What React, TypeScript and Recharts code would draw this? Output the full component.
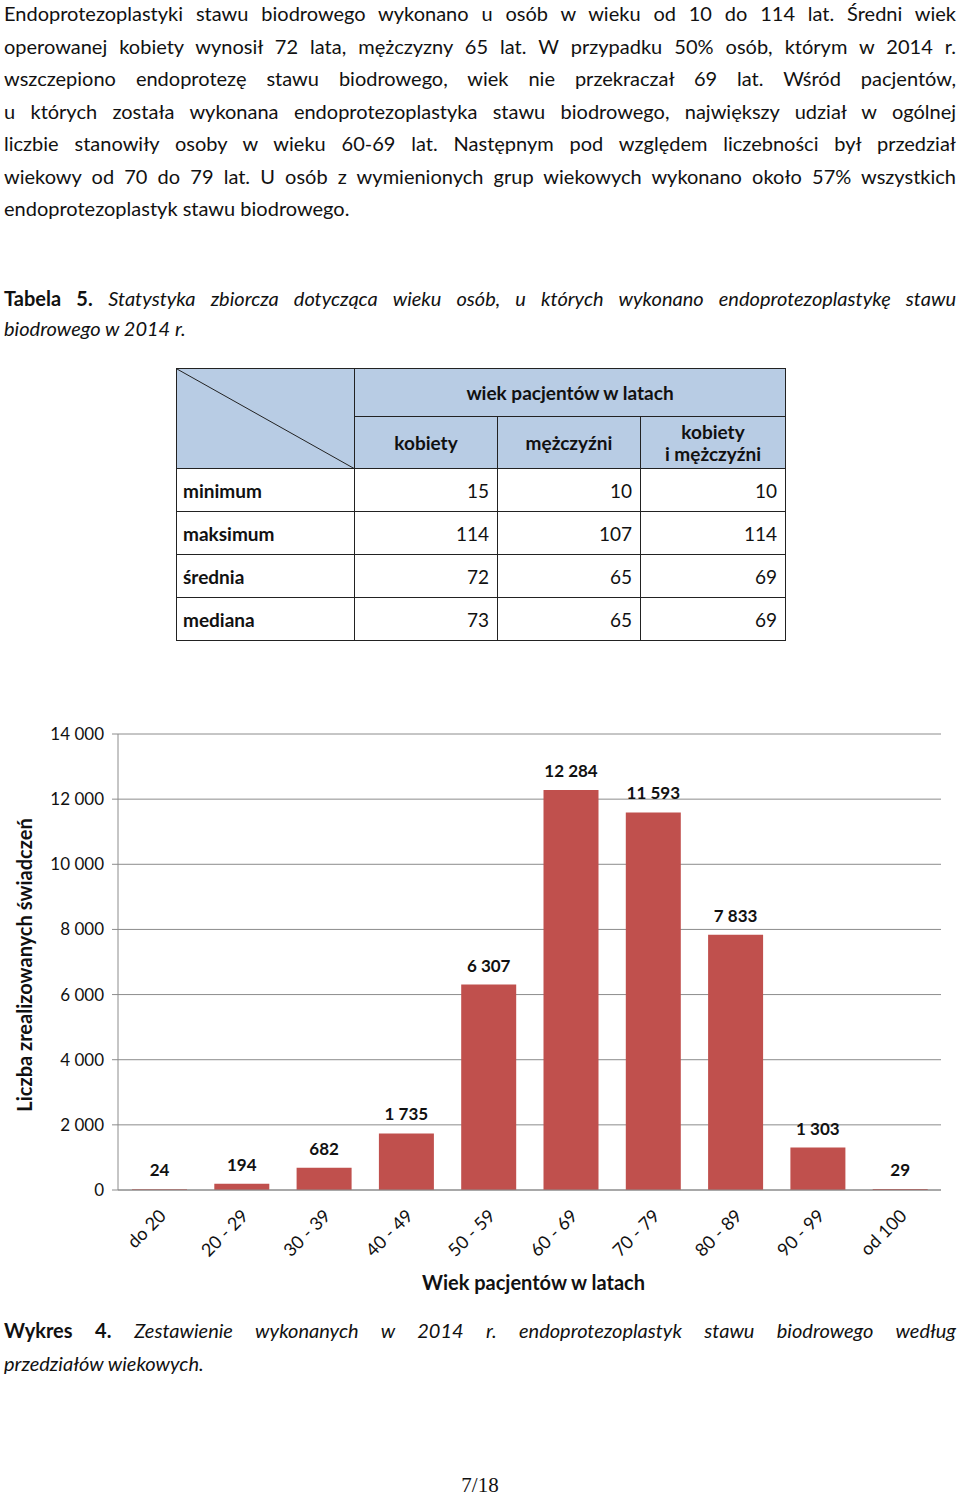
import React from 'react'
import { BarChart, Bar, XAxis, YAxis, CartesianGrid, LabelList, Label } from 'recharts'

const FONT = 'Lato, "Open Sans", sans-serif'

// chart data
const AGE_GROUPS = ['do 20', '20 - 29', '30 - 39', '40 - 49', '50 - 59', '60 - 69', '70 - 79', '80 - 89', '90 - 99', 'od 100']
const COUNTS = [24, 194, 682, 1735, 6307, 12284, 11593, 7833, 1303, 29]
const Y_TICKS = [0, 2000, 4000, 6000, 8000, 10000, 12000, 14000]

// table 5
const STAT_ROWS = ['minimum', 'maksimum', 'średnia', 'mediana']
const WOMEN = [15, 114, 72, 73]
const MEN = [10, 107, 65, 65]
const ALL = [10, 114, 69, 69]

const PARAGRAPH = [
  'Endoprotezoplastyki stawu biodrowego wykonano u osób w wieku od 10 do 114 lat. Średni wiek',
  'operowanej kobiety wynosił 72 lata, mężczyzny 65 lat. W przypadku 50% osób, którym w 2014 r.',
  'wszczepiono endoprotezę stawu biodrowego, wiek nie przekraczał 69 lat. Wśród pacjentów,',
  'u których została wykonana endoprotezoplastyka stawu biodrowego, największy udział w ogólnej',
  'liczbie stanowiły osoby w wieku 60-69 lat. Następnym pod względem liczebności był przedział',
  'wiekowy od 70 do 79 lat. U osób z wymienionych grup wiekowych wykonano około 57% wszystkich',
  'endoprotezoplastyk stawu biodrowego.',
]

const fmt = (v: number) => String(v).replace(/\B(?=(\d{3})+(?!\d))/g, ' ')

const data = AGE_GROUPS.map((g, i) => ({ group: g, value: COUNTS[i] }))

const AgeTick = (props: any) => {
  const { x, y, payload } = props
  return (
    <g transform={`translate(${x + 8},${y + 27})`}>
      <text textAnchor="end" transform="rotate(-45)" fontSize={18} fontFamily={FONT} fill="#111">{payload.value}</text>
    </g>
  )
}

const line = (last: boolean): React.CSSProperties => ({
  height: 32.5, lineHeight: '32.5px', textAlign: last ? 'left' : 'justify', textAlignLast: last ? 'left' : 'justify',
})

const cell: React.CSSProperties = { border: '1px solid #222', padding: '0 8px', fontSize: 19 }
const head: React.CSSProperties = { ...cell, background: '#b8cce4', fontWeight: 700, textAlign: 'center', lineHeight: '22px' }

export default function App() {
  return (
    <div style={{ position: 'absolute', left: 0, top: 0, width: 960, height: 1496, background: '#fff', fontFamily: FONT, color: '#111', overflow: 'hidden' }}>
      {/* paragraph */}
      <div style={{ position: 'absolute', left: 4, top: -3, width: 952, fontSize: 20 }}>
        {PARAGRAPH.map((t, i) => <div key={i} style={line(i === PARAGRAPH.length - 1)}>{t}</div>)}
      </div>

      {/* table title */}
      <div style={{ position: 'absolute', left: 4, top: 283, width: 952, fontSize: 20 }}>
        <div style={{ ...line(false), height: 30, lineHeight: '30px' }}>
          <b>Tabela 5.</b> <i>Statystyka zbiorcza dotycząca wieku osób, u których wykonano endoprotezoplastykę stawu</i>
        </div>
        <div style={{ ...line(true), height: 30, lineHeight: '30px' }}><i>biodrowego w 2014 r.</i></div>
      </div>

      {/* table */}
      <table style={{ position: 'absolute', left: 176, top: 368, borderCollapse: 'collapse', tableLayout: 'fixed', width: 609 }}>
        <colgroup>
          <col style={{ width: 178 }} /><col style={{ width: 143 }} /><col style={{ width: 143 }} /><col style={{ width: 145 }} />
        </colgroup>
        <tbody>
          <tr style={{ height: 48 }}>
            <td rowSpan={2} style={{ ...head, padding: 0, position: 'relative' }}>
              <svg width={178} height={100} style={{ position: 'absolute', left: 0, top: 0 }}>
                <line x1={0} y1={0} x2={178} y2={100} stroke="#222" strokeWidth={1} />
              </svg>
            </td>
            <td colSpan={3} style={head}>wiek pacjentów w latach</td>
          </tr>
          <tr style={{ height: 52 }}>
            <td style={head}>kobiety</td>
            <td style={head}>mężczyźni</td>
            <td style={head}>kobiety<br />i mężczyźni</td>
          </tr>
          {STAT_ROWS.map((r, i) => (
            <tr key={r} style={{ height: 43 }}>
              <td style={{ ...cell, fontWeight: 700, textAlign: 'left', paddingLeft: 6 }}>{r}</td>
              <td style={{ ...cell, textAlign: 'right' }}>{WOMEN[i]}</td>
              <td style={{ ...cell, textAlign: 'right' }}>{MEN[i]}</td>
              <td style={{ ...cell, textAlign: 'right' }}>{ALL[i]}</td>
            </tr>
          ))}
        </tbody>
      </table>

      {/* chart */}
      <div style={{ position: 'absolute', left: 0, top: 715 }}>
        <BarChart width={960} height={600} data={data} margin={{ top: 19, right: 19, left: 0, bottom: 0 }}>
          <CartesianGrid vertical={false} stroke="#8c8c8c" />
          <XAxis xAxisId="edges" type="number" domain={[0, 10]} ticks={[0, 1, 2, 3, 4, 5, 6, 7, 8, 9, 10]}
            height={1} axisLine={false} tick={false} tickSize={6} tickLine={{ stroke: '#8c8c8c' }} allowDataOverflow />
          <XAxis dataKey="group" height={124} tickSize={0} tickMargin={0} tick={<AgeTick />}
            axisLine={{ stroke: '#8c8c8c' }} tickLine={false} interval={0}>
            <Label content={(p: any) => {
              const vb = p.viewBox
              return <text x={vb.x + vb.width / 2 + 4} y={vb.y + 100} textAnchor="middle" fontSize={20} fontWeight={700} fontFamily={FONT} fill="#111">Wiek pacjentów w latach</text>
            }} />
          </XAxis>
          <YAxis width={118} domain={[0, 14000]} ticks={Y_TICKS} interval={0} tickFormatter={fmt}
            tick={{ fontSize: 17, fill: '#111', fontFamily: FONT }} tickSize={6} tickMargin={8}
            axisLine={{ stroke: '#8c8c8c' }} tickLine={{ stroke: '#8c8c8c' }}>
            <Label content={(p: any) => {
              const vb = p.viewBox
              const cy = vb.y + vb.height / 2 + 3
              return <text x={24} y={cy} transform={`rotate(-90, 24, ${cy})`} textAnchor="middle" dominantBaseline="central"
                fontSize={20} fontWeight={700} fontFamily={FONT} fill="#111">Liczba zrealizowanych świadczeń</text>
            }} />
          </YAxis>
          <Bar dataKey="value" fill="#c0504d" barSize={55} isAnimationActive={false}>
            <LabelList dataKey="value" position="top" offset={13} formatter={(v: any) => fmt(Number(v))}
              fontSize={17} fontWeight={700} fill="#111" fontFamily={FONT} />
          </Bar>
        </BarChart>
      </div>

      {/* caption */}
      <div style={{ position: 'absolute', left: 4, top: 1314, width: 952, fontSize: 20 }}>
        <div style={line(false)}>
          <b>Wykres 4.</b> <i>Zestawienie wykonanych w 2014 r. endoprotezoplastyk stawu biodrowego według</i>
        </div>
        <div style={line(true)}><i>przedziałów wiekowych.</i></div>
      </div>

      <div style={{ position: 'absolute', left: 0, top: 1473, width: 960, textAlign: 'center', fontFamily: '"Liberation Serif", serif', fontSize: 21 }}>7/18</div>
    </div>
  )
}
